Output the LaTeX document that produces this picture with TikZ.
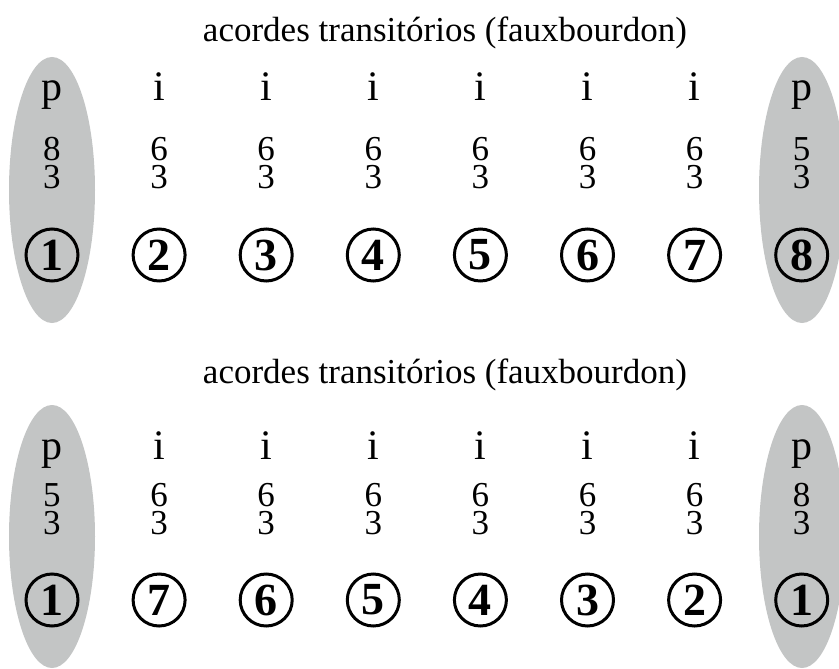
\documentclass[tikz,border=0pt]{standalone}
\usepackage{fontspec}
\setmainfont{Liberation Serif}
\usetikzlibrary{shapes,positioning}
\definecolor{hiliteGray}{RGB}{195,197,197}
\tikzset{
hilite/.style = {ellipse, fill=hiliteGray, inner sep=0pt, minimum width=43pt, minimum height=133pt},
title/.style = {anchor=base, font=\fontsize{17.5}{21}\selectfont},
func/.style = {inner sep=0pt, text height=13.6pt, text depth=4.9pt, font=\fontsize{21}{25}\selectfont},
figs/.style = {inner sep=0pt, align=center, font=\fontsize{17.5}{14}\selectfont},
degree/.style = {draw, circle, line width=1.5pt, inner sep=0pt, minimum size=26pt, font=\fontsize{23}{27}\selectfont\bfseries}
}

\begin{document}
\begin{tikzpicture}[x=0.5pt, y=-0.5pt, node distance=53.55pt]
    \useasboundingbox (0,0) rectangle (839,668);
    % upper row
    \node[hilite] (ea1) at (52,190) {};
    \node[hilite] (ea8) at (802,190) {};
    \node[title] (ta) at (445,42) {acordes transitórios (fauxbourdon)};
    \node[func] (fa1) at (52,92) {p};
    \node[func, right of = fa1] (fa2) {i};
    \node[func, right of = fa2] (fa3) {i};
    \node[func, right of = fa3] (fa4) {i};
    \node[func, right of = fa4] (fa5) {i};
    \node[func, right of = fa5] (fa6) {i};
    \node[func, right of = fa6] (fa7) {i};
    \node[func, right of = fa7] (fa8) {p};
    \node[figs] (ca1) at (52,163) {8\\3};
    \node[figs, right of = ca1] (ca2) {6\\3};
    \node[figs, right of = ca2] (ca3) {6\\3};
    \node[figs, right of = ca3] (ca4) {6\\3};
    \node[figs, right of = ca4] (ca5) {6\\3};
    \node[figs, right of = ca5] (ca6) {6\\3};
    \node[figs, right of = ca6] (ca7) {6\\3};
    \node[figs, right of = ca7] (ca8) {5\\3};
    \node[degree] (ga1) at (52,255) {1};
    \node[degree, right of = ga1] (ga2) {2};
    \node[degree, right of = ga2] (ga3) {3};
    \node[degree, right of = ga3] (ga4) {4};
    \node[degree, right of = ga4] (ga5) {5};
    \node[degree, right of = ga5] (ga6) {6};
    \node[degree, right of = ga6] (ga7) {7};
    \node[degree, right of = ga7] (ga8) {8};
    % lower row
    \node[hilite, minimum height=131.5pt] (eb1) at (52,536.5) {};
    \node[hilite, minimum height=131.5pt] (eb8) at (802,536.5) {};
    \node[title] (tb) at (445,383) {acordes transitórios (fauxbourdon)};
    \node[func] (fb1) at (52,451) {p};
    \node[func, right of = fb1] (fb2) {i};
    \node[func, right of = fb2] (fb3) {i};
    \node[func, right of = fb3] (fb4) {i};
    \node[func, right of = fb4] (fb5) {i};
    \node[func, right of = fb5] (fb6) {i};
    \node[func, right of = fb6] (fb7) {i};
    \node[func, right of = fb7] (fb8) {p};
    \node[figs] (cb1) at (52,509) {5\\3};
    \node[figs, right of = cb1] (cb2) {6\\3};
    \node[figs, right of = cb2] (cb3) {6\\3};
    \node[figs, right of = cb3] (cb4) {6\\3};
    \node[figs, right of = cb4] (cb5) {6\\3};
    \node[figs, right of = cb5] (cb6) {6\\3};
    \node[figs, right of = cb6] (cb7) {6\\3};
    \node[figs, right of = cb7] (cb8) {8\\3};
    \node[degree] (gb1) at (52,600) {1};
    \node[degree, right of = gb1] (gb2) {7};
    \node[degree, right of = gb2] (gb3) {6};
    \node[degree, right of = gb3] (gb4) {5};
    \node[degree, right of = gb4] (gb5) {4};
    \node[degree, right of = gb5] (gb6) {3};
    \node[degree, right of = gb6] (gb7) {2};
    \node[degree, right of = gb7] (gb8) {1};
\end{tikzpicture}
\end{document}
